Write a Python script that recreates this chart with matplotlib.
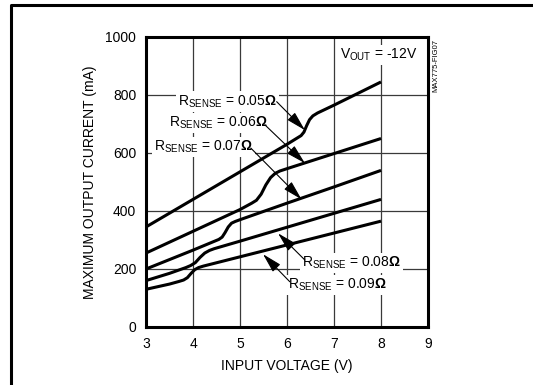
import numpy as np
import matplotlib
matplotlib.use("Agg")
import matplotlib.pyplot as plt
from matplotlib.lines import Line2D

plt.rcParams['font.family'] = ['Liberation Sans Narrow', 'Liberation Sans', 'DejaVu Sans']
plt.rcParams['mathtext.fontset'] = 'custom'
plt.rcParams['mathtext.rm'] = 'Liberation Sans'
plt.rcParams['mathtext.bf'] = 'Liberation Sans:bold'

# curves: input voltage (V) -> max output current (mA)
v05 = [3.0, 4.0, 5.0, 6.0, 6.2, 6.3, 6.36, 6.42, 6.48, 6.55, 6.65, 7.0, 8.0]
i05 = [345, 440, 535, 630, 650, 660, 672, 695, 715, 728, 738, 765, 845]
v06 = [3.0, 4.0, 5.0, 5.25, 5.35, 5.45, 5.55, 5.65, 5.75, 5.85, 6.0, 7.0, 8.0]
i06 = [255, 330, 405, 427, 437, 458, 490, 515, 530, 538, 546, 598, 650]
v07 = [3.0, 4.0, 4.55, 4.62, 4.68, 4.75, 4.82, 4.9, 5.0, 6.0, 7.0, 8.0]
i07 = [200, 265, 302, 310, 325, 345, 358, 364, 370, 427, 483, 540]
v08 = [3.0, 3.5, 3.85, 3.95, 4.05, 4.15, 4.25, 4.35, 4.45, 5.0, 6.0, 7.0, 8.0]
i08 = [160, 185, 205, 212, 222, 240, 255, 264, 270, 296, 344, 392, 440]
v09 = [3.0, 3.5, 3.7, 3.8, 3.88, 3.96, 4.04, 4.12, 4.22, 5.0, 6.0, 7.0, 8.0]
i09 = [130, 148, 157, 162, 170, 185, 198, 205, 210, 242, 283, 324, 365]

xticks = [3, 4, 5, 6, 7, 8, 9]
yticks = [0, 200, 400, 600, 800, 1000]

fig = plt.figure(figsize=(5.33, 3.85), dpi=100)
ax = fig.add_axes([146/533, 1-327/385, 282/533, 290/385])

ax.set_xlim(3, 9)
ax.set_ylim(0, 1000)
ax.set_xticks(xticks)
ax.set_yticks(yticks)
ax.tick_params(length=0, labelsize=10, pad=7)
ax.grid(True, color='#3a3a3a', lw=0.9, zorder=1)
for s in ax.spines.values():
    s.set_linewidth(2.2)
    s.set_zorder(5)

for v, i in [(v05, i05), (v06, i06), (v07, i07), (v08, i08), (v09, i09)]:
    ax.plot(v, i, color='black', lw=2.2, solid_capstyle='butt', solid_joinstyle='round', zorder=3)

ax.set_xlabel('INPUT VOLTAGE (V)', fontsize=10, labelpad=6)
ax.set_ylabel('MAXIMUM OUTPUT CURRENT (mA)', fontsize=10, labelpad=6)

box = dict(facecolor='white', edgecolor='none', pad=1.5)
arrow = dict(arrowstyle='-|>,head_length=1.2,head_width=0.32', color='black', lw=0.8,
             shrinkA=0, shrinkB=0)

labels = [
    (r'R$_{\mathregular{SENSE}}$ = 0.05$\mathbf{\Omega}$', (4.74, 778), (6.38, 679), (5.78, 777)),
    (r'R$_{\mathregular{SENSE}}$ = 0.06$\mathbf{\Omega}$', (4.53, 703), (6.38, 565), (5.53, 697)),
    (r'R$_{\mathregular{SENSE}}$ = 0.07$\mathbf{\Omega}$', (4.23, 621), (6.31, 440), (5.23, 617)),
    (r'R$_{\mathregular{SENSE}}$ = 0.08$\mathbf{\Omega}$', (7.38, 220), (5.81, 323), (6.38, 231)),
    (r'R$_{\mathregular{SENSE}}$ = 0.09$\mathbf{\Omega}$', (7.08, 145), (5.49, 251), (6.06, 156)),
]
for txt, pos, head, tail in labels:
    ax.text(pos[0], pos[1], txt, fontsize=10, ha='center', va='center', bbox=box, zorder=4)
    ax.annotate('', xy=head, xytext=tail, arrowprops=arrow, zorder=6)

ax.text(7.95, 938, r'V$_{\mathregular{OUT}}$ = -12V', fontsize=10, ha='center', va='center',
        bbox=box, zorder=4)

fig.text(436/533, 1-66/385, 'MAX775-FIG07', fontsize=5.5, rotation=90, ha='center', va='center')

# outer frame (left and top edges visible)
fig.add_artist(Line2D([11/533, 11/533, 1.0], [0.0, 1-5/385, 1-5/385], color='black', lw=2.2,
                      transform=fig.transFigure))

fig.savefig('out.png', dpi=100)
